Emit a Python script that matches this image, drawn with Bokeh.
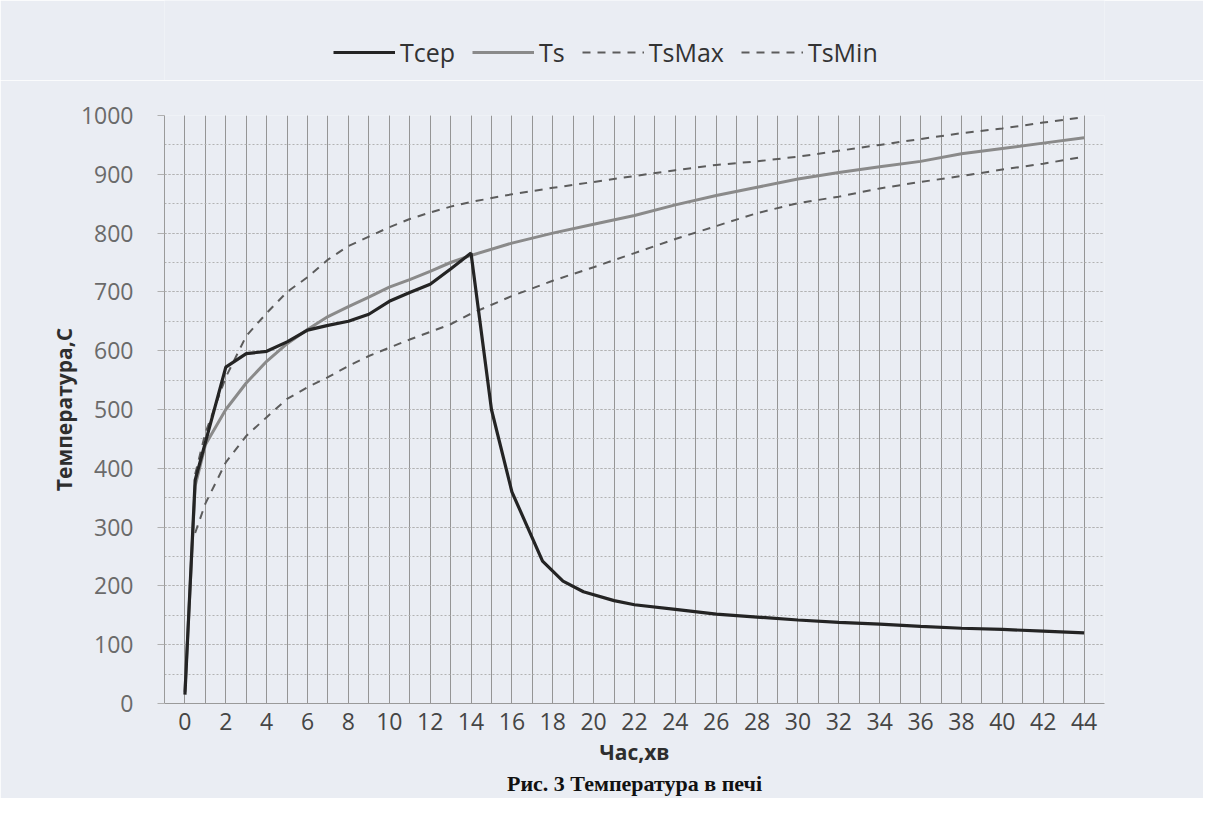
from bokeh.plotting import figure
from bokeh.layouts import column
from bokeh.models import Range1d, FixedTicker, Legend, LegendItem, Title
from bokeh.embed import file_html
from bokeh.resources import INLINE

# ---- data ----
t_cer = [0, 0.5, 2, 3, 4, 5, 6, 7, 8, 9, 10, 11, 12, 13, 14, 15, 16, 17.5,
         18.5, 19.5, 21, 22, 24, 26, 28, 30, 32, 34, 36, 38, 40, 42, 44]
T_cer = [15, 380, 572, 595, 599, 615, 635, 643, 650, 662, 684, 699, 713, 739,
         766, 500, 360, 242, 208, 190, 175, 168, 160, 152, 147, 142, 138, 135,
         131, 128, 126, 123, 120]

t_s = [0, 0.5, 1, 2, 3, 4, 5, 6, 7, 8, 9, 10, 11, 12, 13, 14, 16, 18, 20, 22,
       24, 26, 28, 30, 32, 34, 36, 38, 40, 42, 44]
Ts = [20, 370, 440, 500, 545, 582, 612, 636, 658, 675, 691, 708, 721, 735,
      750, 762, 783, 800, 815, 830, 848, 864, 878, 892, 903, 913, 922, 935,
      944, 953, 962]

t_b = [0.5, 1, 2, 3, 4, 5, 6, 7, 8, 9, 10, 11, 12, 13, 14, 16, 18, 20, 22,
       24, 26, 28, 30, 32, 34, 36, 38, 40, 42, 44]
TsMax = [390, 460, 555, 625, 664, 700, 725, 755, 778, 794, 810, 824, 835, 845,
         853, 866, 877, 887, 897, 907, 916, 922, 930, 940, 950, 960, 970, 978,
         988, 997]
TsMin = [290, 340, 410, 455, 487, 518, 538, 555, 574, 591, 605, 619, 632, 645,
         663, 693, 719, 742, 766, 790, 812, 834, 851, 862, 876, 887, 897, 908,
         918, 930]

x_ticks = list(range(0, 45, 2))
x_grid = list(range(-1, 46, 1))
y_ticks = list(range(0, 1001, 100))
y_grid = list(range(0, 1001, 50))

x_title = "Час,хв"
y_title = "Температура,С"
series_names = ["Тсер", "Ts", "TsMax", "TsMin"]
caption = "Рис. 3 Температура в печі"

BG = "#eaedf3"
FONT = "Open Sans"
C_CER, C_S, C_B = "#242424", "#8a8a8a", "#5c5c5c"
W, H = 1203, 798
LEG_H = 80

# ---------------- main chart ----------------
p = figure(width=W, height=H - LEG_H, output_backend="svg",
           toolbar_location=None,
           x_range=Range1d(-1, 45), y_range=Range1d(0, 1000),
           min_border_left=164, min_border_right=99,
           min_border_top=115 - LEG_H, min_border_bottom=95)
p.background_fill_color = BG
p.border_fill_color = BG
p.outline_line_color = None

p.xaxis.ticker = FixedTicker(ticks=x_ticks, minor_ticks=x_grid)
p.yaxis.ticker = FixedTicker(ticks=y_ticks, minor_ticks=y_grid)
for ax in (p.xaxis, p.yaxis):
    ax.major_tick_line_color = None
    ax.minor_tick_line_color = None
    ax.major_label_text_font = FONT
    ax.major_label_text_font_size = "23px"
    ax.axis_label_text_font = FONT
    ax.axis_label_text_font_style = "bold"
    ax.axis_label_text_font_size = "21px"
    ax.axis_label_text_color = "#2e2e2e"
p.yaxis.major_tick_line_color = "#b0b0b0"
p.yaxis.major_tick_out = 7
p.yaxis.major_tick_in = 0
p.xaxis.axis_line_color = "#9a9a9a"
p.yaxis.axis_line_color = "#9a9a9a"
p.xaxis.major_label_text_color = "#454545"
p.yaxis.major_label_text_color = "#6a6a6a"
p.xaxis.major_label_standoff = 3
p.yaxis.major_label_standoff = 24
p.xaxis.axis_label = x_title
p.yaxis.axis_label = y_title
p.xaxis.axis_label_standoff = 5
p.yaxis.axis_label_standoff = 0

p.xgrid.grid_line_color = "#959595"
p.xgrid.minor_grid_line_color = "#959595"
p.ygrid.grid_line_color = "#b2b2b2"
p.ygrid.minor_grid_line_color = "#b2b2b2"
p.ygrid.grid_line_dash = "2 2"
p.ygrid.minor_grid_line_dash = "2 2"

p.line(t_b, TsMax, line_color=C_B, line_width=2, line_dash="8 7")
p.line(t_b, TsMin, line_color=C_B, line_width=2, line_dash="8 7")
p.line(t_s, Ts, line_color=C_S, line_width=3)
p.line(t_cer, T_cer, line_color=C_CER, line_width=3.2)

p.add_layout(Title(text=caption, align="center", text_font="Liberation Serif",
                   text_font_style="bold", text_font_size="22px",
                   text_color="#111111", standoff=0), "below")

# ---------------- legend strip ----------------
nan = float("nan")
leg = figure(width=W, height=LEG_H, output_backend="svg", toolbar_location=None,
             x_axis_type=None, y_axis_type=None, min_border=0,
             x_range=Range1d(0, 1), y_range=Range1d(0, 1))
leg.background_fill_color = BG
leg.border_fill_color = BG
leg.outline_line_color = None
leg.grid.visible = False
k_c = leg.line([nan], [nan], line_color=C_CER, line_width=3.2)
k_s = leg.line([nan], [nan], line_color=C_S, line_width=3)
k_max = leg.line([nan], [nan], line_color=C_B, line_width=2, line_dash="8 7")
k_min = leg.line([nan], [nan], line_color=C_B, line_width=2, line_dash="8 7")
legend = Legend(items=[LegendItem(label=series_names[0], renderers=[k_c]),
                       LegendItem(label=series_names[1], renderers=[k_s]),
                       LegendItem(label=series_names[2], renderers=[k_max]),
                       LegendItem(label=series_names[3], renderers=[k_min])],
                orientation="horizontal", location=(169, 11),
                background_fill_alpha=0, border_line_color=None,
                label_text_font=FONT, label_text_font_size="25px",
                label_text_color="#333333", glyph_width=62, glyph_height=24,
                label_standoff=5, spacing=17, padding=2, margin=0)
leg.add_layout(legend, "center")

layout = column(leg, p, spacing=0)
open("out.html", "w").write(file_html(layout, INLINE))
